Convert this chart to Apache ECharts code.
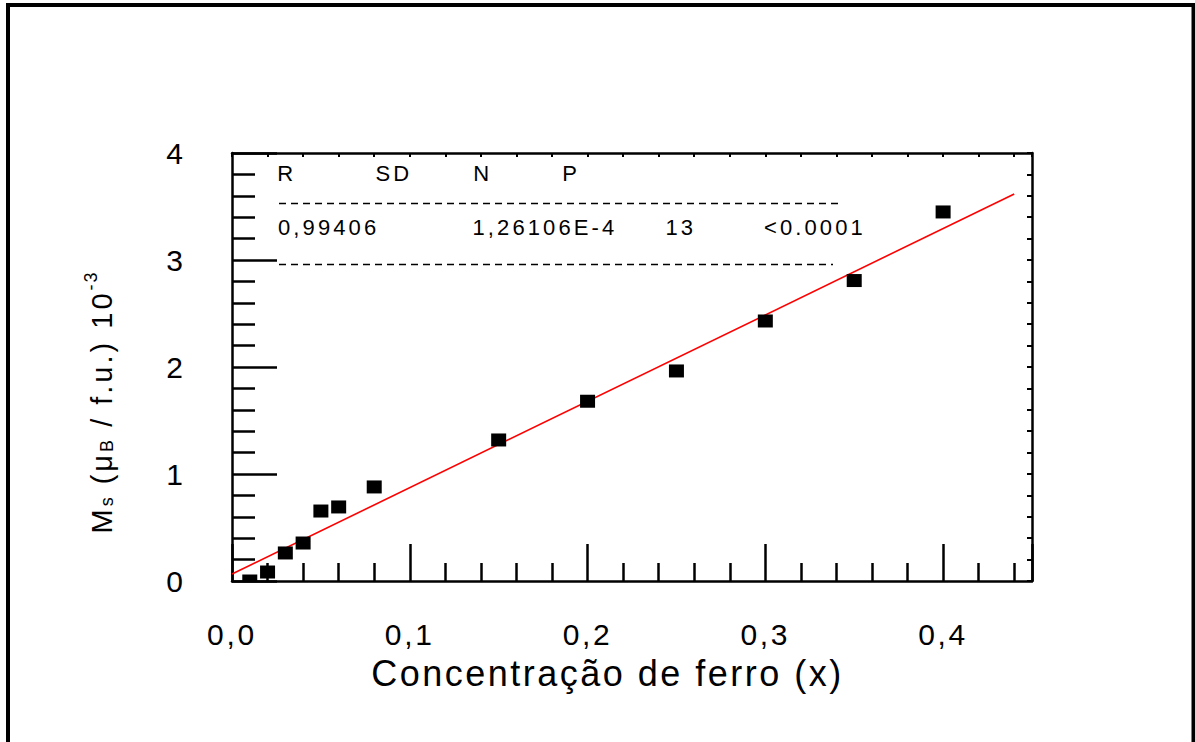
<!DOCTYPE html>
<html>
<head>
<meta charset="utf-8">
<script src="https://cdn.jsdelivr.net/npm/echarts@6/dist/echarts.min.js"></script>
<style>
  html, body { margin: 0; padding: 0; background: #fff; }
  #chart { width: 1195px; height: 742px; }
</style>
</head>
<body>
<div id="chart"></div>
<script>
// Saturation magnetization vs. iron concentration, with linear fit
const ironConc      = [0.01, 0.02, 0.03, 0.04, 0.05, 0.06, 0.08, 0.15, 0.20, 0.25, 0.30, 0.35, 0.40];
const magnetization = [0.00, 0.084, 0.262, 0.355, 0.654, 0.692, 0.879, 1.318, 1.68, 1.963, 2.43, 2.808, 3.449];

// Linear fit line endpoints
const fitX = [0, 0.44];
const fitY = [0.065, 3.617];

// Fit statistics table
const statHeaders = ['R', 'SD', 'N', 'P'];
const statValues  = ['0,99406', '1,26106E-4', '13', '<0.0001'];

const xTitle = 'Concentração de ferro (x)';

const FONT = "'Liberation Sans', Arial, Helvetica, sans-serif";

const chart = echarts.init(document.getElementById('chart'), null, { renderer: 'svg' });

function squareMarker(params, api) {
  const c = api.coord([api.value(0), api.value(1)]);
  const w = 15, h = 13;
  const cs = params.coordSys;
  const r = echarts.graphic.clipRectByRect(
    { x: c[0] - w / 2, y: c[1] - h / 2, width: w, height: h },
    { x: cs.x, y: cs.y, width: cs.width, height: cs.height }
  );
  return r ? { type: 'rect', shape: r, style: { fill: '#000' } } : null;
}

const axisLine = { show: true, onZero: false, lineStyle: { color: '#000', width: 2.5 } };
const decimalComma = function (v) {
  if (Math.abs(v * 10 - Math.round(v * 10)) > 1e-6) return '';
  return v.toFixed(1).replace('.', ',');
};

function statText(x, y, text) {
  return {
    type: 'text', x: x, y: y, silent: true,
    style: {
      text: text, fill: '#000', font: '22px ' + FONT,
      align: 'left', verticalAlign: 'middle',
      textAlign: 'left', textVerticalAlign: 'middle'
    }
  };
}

const headerX = [277.3, 375.5, 473.3, 562.3];
const valueX  = [278, 472.5, 665.5, 764];

const graphics = [
  // outer frame
  { type: 'rect', silent: true, shape: { x: 8, y: 5, width: 1185.5, height: 800 },
    style: { fill: 'none', stroke: '#000', lineWidth: 4 } },
  // statistics table rules
  { type: 'line', silent: true, shape: { x1: 279, y1: 203.5, x2: 843, y2: 203.5 },
    style: { stroke: '#000', lineWidth: 1.4, lineDash: [7, 5] } },
  { type: 'line', silent: true, shape: { x1: 279, y1: 264.5, x2: 833, y2: 264.5 },
    style: { stroke: '#000', lineWidth: 1.4, lineDash: [7, 5] } },
  // x axis title
  { type: 'text', x: 607.5, y: 673, silent: true,
    style: { text: xTitle, fill: '#000', font: '36px ' + FONT,
      align: 'center', verticalAlign: 'middle', textAlign: 'center', textVerticalAlign: 'middle' } },
  // y axis title
  { type: 'text', x: 102, y: 402, rotation: Math.PI / 2, silent: true,
    style: {
      text: '{m1|M}{s1|s}{m3| (μ}{s1|B}{m11| / f.u.) 10}{p2|-3}',
      fill: '#000', font: '29px ' + FONT,
      align: 'center', verticalAlign: 'middle', textAlign: 'center', textVerticalAlign: 'middle',
      rich: {
        m1:  { fontSize: 29, fontFamily: FONT, fill: '#000', align: 'left', verticalAlign: 'middle', padding: [0, 3, 0, 0] },
        m3:  { fontSize: 29, fontFamily: FONT, fill: '#000', align: 'left', verticalAlign: 'middle', padding: [0, 9, 0, 0] },
        m11: { fontSize: 29, fontFamily: FONT, fill: '#000', align: 'left', verticalAlign: 'middle', padding: [0, 33, 0, 0] },
        s1:  { fontSize: 18, fontFamily: FONT, fill: '#000', align: 'left', verticalAlign: 'middle', padding: [10.6, 2, 0, 0] },
        p2:  { fontSize: 18, fontFamily: FONT, fill: '#000', align: 'left', verticalAlign: 'middle', padding: [0, 4, 22.4, 0] }
      }
    } }
];
statHeaders.forEach(function (t, i) { graphics.push(statText(headerX[i], 173.7, t)); });
statValues.forEach(function (t, i) { graphics.push(statText(valueX[i], 227, t)); });

const option = {
  animation: false,
  backgroundColor: '#fff',
  grid: { left: 232, top: 153, right: 163, bottom: 161, containLabel: false, outerBoundsMode: 'none' },
  xAxis: [
    {
      type: 'value', position: 'bottom', min: 0, max: 0.45, interval: 0.1,
      axisLine: axisLine,
      axisTick: { show: true, inside: true, length: 37, lineStyle: { color: '#000', width: 2.5 } },
      minorTick: { show: true, splitNumber: 5, length: 18, lineStyle: { color: '#000', width: 2.5 } },
      splitLine: { show: false }, minorSplitLine: { show: false },
      axisLabel: { show: true, margin: 38, color: '#000', fontSize: 30, fontFamily: FONT,
        showMaxLabel: false, formatter: decimalComma }
    },
    {
      type: 'value', position: 'top', min: 0, max: 0.45, interval: 0.02,
      axisLine: axisLine,
      axisTick: { show: true, inside: true, length: 4, lineStyle: { color: '#000', width: 2 } },
      axisLabel: { show: false }, splitLine: { show: false }
    }
  ],
  yAxis: [
    {
      type: 'value', position: 'left', min: 0, max: 4, interval: 1,
      axisLine: axisLine,
      axisTick: { show: true, inside: true, length: 45, lineStyle: { color: '#000', width: 2.5 } },
      minorTick: { show: true, splitNumber: 5, length: 23, lineStyle: { color: '#000', width: 2.5 } },
      splitLine: { show: false }, minorSplitLine: { show: false },
      axisLabel: { show: true, margin: 49, color: '#000', fontSize: 30, fontFamily: FONT,
        formatter: function (v) { return String(v); } }
    },
    {
      type: 'value', position: 'right', min: 0, max: 4, interval: 0.2,
      axisLine: axisLine,
      axisTick: { show: true, inside: true, length: 5, lineStyle: { color: '#000', width: 2 } },
      axisLabel: { show: false }, splitLine: { show: false }
    }
  ],
  series: [
    {
      type: 'line', xAxisIndex: 0, yAxisIndex: 0,
      data: fitX.map(function (x, i) { return [x, fitY[i]]; }),
      symbol: 'none', showSymbol: false, silent: true, z: 2,
      lineStyle: { color: '#ff0000', width: 1.6 }
    },
    {
      type: 'custom', xAxisIndex: 0, yAxisIndex: 0,
      data: ironConc.map(function (x, i) { return [x, magnetization[i]]; }),
      renderItem: squareMarker, silent: true, z: 3
    }
  ],
  graphic: graphics
};

chart.setOption(option);

// Typeset spacing of the labels, by font size
const LETTER_SPACING = { 18: 2, 22: 3.1, 29: 3, 30: 2.7, 36: 2.5 };
function applyLetterSpacing() {
  chart.getDom().querySelectorAll('text').forEach(function (t) {
    const size = Math.round(parseFloat(window.getComputedStyle(t).fontSize));
    const sp = LETTER_SPACING[size];
    if (sp && t.textContent.length > 1) t.style.letterSpacing = sp + 'px';
  });
}
chart.on('finished', applyLetterSpacing);
applyLetterSpacing();
setTimeout(applyLetterSpacing, 30);
</script>
</body>
</html>
